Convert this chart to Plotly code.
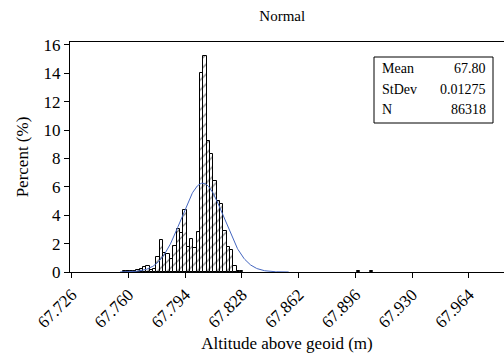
import numpy as np
import plotly.graph_objects as go

# Histogram data (percent per bin), bin width 0.002 m
bin_start = 67.7568          # left edge of first bin
bin_width = 0.002
percent = [0.10, 0.05, 0.10, 0.10, 0.15, 0.20,
           0.35, 0.45, 0.15, 0.20, 1.05, 2.25, 1.35, 1.25, 0.90, 1.85, 3.00, 2.75,
           4.40, 1.75, 2.35, 1.70, 2.85, 14.0, 15.2, 9.25, 8.30, 6.40, 5.00, 4.80,
           2.90, 1.75, 1.55, 0.40, 0.10, 0.05]
# isolated tiny bins far right (bin index offset from bin_start)
far_bins = [70, 74]
far_percent = [0.05, 0.04]

mean_val = 67.8045
mean_label = "67.80"
std_val = 0.01275
n_val = 86318

tick_vals = [67.726, 67.760, 67.794, 67.828, 67.862, 67.896, 67.930, 67.964]
tick_text = ["67.726", "67.760", "67.794", "67.828", "67.862", "67.896", "67.930", "67.964"]
y_ticks = [0, 2, 4, 6, 8, 10, 12, 14, 16]

FONT = "Liberation Serif"

centers = [bin_start + bin_width * (i + 0.5) for i in range(len(percent))]
centers += [bin_start + bin_width * (i + 0.5) for i in far_bins]
heights = percent + far_percent

fig = go.Figure()
fig.add_trace(go.Bar(
    x=centers, y=heights, width=bin_width,
    marker=dict(color="white", line=dict(color="black", width=1),
                pattern=dict(shape="/", fgcolor="black", bgcolor="white",
                             size=7, solidity=0.18)),
    showlegend=False))

xc = np.linspace(67.755, 67.856, 300)
yc = 100 * bin_width * np.exp(-0.5 * ((xc - mean_val) / std_val) ** 2) / (std_val * np.sqrt(2 * np.pi))
fig.add_trace(go.Scatter(x=xc, y=yc, mode="lines",
                         line=dict(color="#4466c0", width=1), showlegend=False))

fig.update_layout(
    width=504, height=354,
    margin=dict(l=70, r=0, t=42, b=82),
    paper_bgcolor="white", plot_bgcolor="white",
    bargap=0,
    font=dict(family=FONT, color="black"),
    title=dict(text="Normal", x=0.56, xanchor="center", y=0.955, yanchor="middle",
               font=dict(family=FONT, size=15, color="black")),
)
fig.update_xaxes(range=[67.725, 67.985], tickvals=tick_vals, ticktext=tick_text,
                 tickangle=-45, ticks="outside", ticklen=5, tickcolor="black",
                 showline=True, linecolor="black", linewidth=1, mirror=True,
                 showgrid=False, zeroline=False,
                 tickfont=dict(family=FONT, size=17, color="black"),
                 title=dict(text="Altitude above geoid (m)", standoff=6,
                            font=dict(family=FONT, size=17, color="black")))
fig.update_yaxes(range=[0, 16.2], tickvals=y_ticks, ticks="outside", ticklen=5,
                 tickcolor="black", showline=True, linecolor="black", linewidth=1,
                 showgrid=False, zeroline=False,
                 tickfont=dict(family=FONT, size=17, color="black"),
                 title=dict(text="Percent (%)", standoff=10,
                            font=dict(family=FONT, size=17, color="black")))

# statistics box
fig.add_shape(type="rect", xref="paper", yref="paper",
              x0=(374 - 70) / 434, x1=(493 - 70) / 434,
              y0=(272 - 123) / 230, y1=(272 - 57) / 230,
              line=dict(color="black", width=1), fillcolor="white")
rows = [("Mean", mean_label), ("StDev", f"{std_val:.5f}"), ("N", str(n_val))]
for i, (lab, val) in enumerate(rows):
    ypix = 68 + 21 * i
    yp = (272 - ypix) / 230
    fig.add_annotation(xref="paper", yref="paper", x=(380 - 70) / 434, y=yp,
                       text=lab, showarrow=False, xanchor="left", yanchor="middle",
                       font=dict(family=FONT, size=14, color="black"))
    fig.add_annotation(xref="paper", yref="paper", x=(488 - 70) / 434, y=yp,
                       text=val, showarrow=False, xanchor="right", yanchor="middle",
                       font=dict(family=FONT, size=14, color="black"))

fig.write_html("out.html")
